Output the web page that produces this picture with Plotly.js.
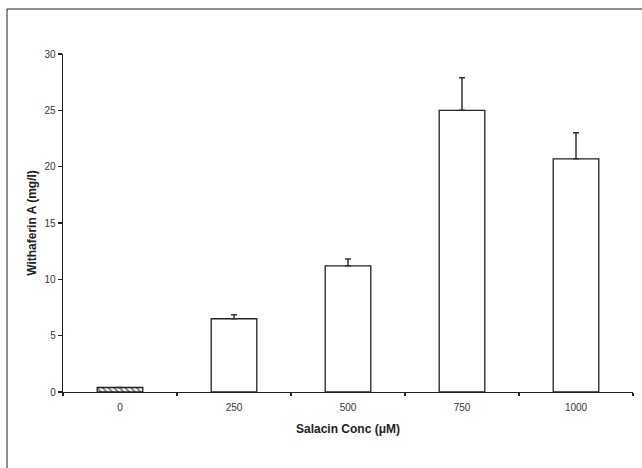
<!DOCTYPE html>
<html>
<head>
<meta charset="utf-8">
<script src="https://cdn.plot.ly/plotly-3.0.1.min.js"></script>
<style>html,body{margin:0;padding:0;background:#fff;}#chart{width:642px;height:468px;}</style>
</head>
<body>
<div id="chart"></div>
<script>
const categories = ["0", "250", "500", "750", "1000"];
const values = [0.4, 6.5, 11.2, 25.0, 20.7];
const errorsUp = [0, 0.35, 0.6, 2.9, 2.3];
const errorsDown = [0, 0, 0, 0, 0];
const patterns = ["\\", "", "", "", ""];

const trace = {
  type: "bar",
  x: categories,
  y: values,
  width: 0.4,
  marker: {
    color: "#ffffff",
    line: {color: "#222222", width: 1.3},
    pattern: {shape: patterns, fgcolor: "#555555", bgcolor: "#ffffff", size: 4, solidity: 0.35}
  },
  error_y: {
    type: "data", symmetric: false, array: errorsUp, arrayminus: errorsDown,
    visible: true, color: "#333333", thickness: 1.5, width: 3
  },
  hoverinfo: "none"
};

const font = {family: "Liberation Sans, Arial, sans-serif", color: "#222222"};

const layout = {
  width: 642, height: 468,
  margin: {l: 63, r: 9, t: 54, b: 76},
  paper_bgcolor: "#ffffff", plot_bgcolor: "#ffffff",
  showlegend: false,
  bargap: 0.6,
  font: font,
  xaxis: {
    type: "category",
    showline: true, linecolor: "#222222", linewidth: 1.3,
    ticks: "outside", tickson: "boundaries", ticklen: 3, tickcolor: "#222222", tickwidth: 1.3,
    ticklabelstandoff: 6,
    tickfont: {family: font.family, size: 10, color: "#333333"},
    showgrid: false, zeroline: false,
    title: {text: "Salacin Conc (μM)", font: {family: font.family, size: 12, color: "#222222", weight: "bold"}, standoff: 12}
  },
  yaxis: {
    range: [0, 30], dtick: 5, tick0: 0,
    showline: true, linecolor: "#222222", linewidth: 1.3,
    ticks: "outside", ticklen: 4, tickcolor: "#222222", tickwidth: 1.3,
    tickfont: {family: font.family, size: 10, color: "#333333"},
    showgrid: false, zeroline: false,
    title: {text: "Withaferin A (mg/l)", font: {family: font.family, size: 12, color: "#222222", weight: "bold"}, standoff: 5}
  },
  shapes: [{
    type: "rect", xref: "paper", yref: "paper",
    x0: -0.0982, x1: 1.06, y0: -0.3, y1: 1.1331,
    line: {color: "#222222", width: 1}, fillcolor: "rgba(0,0,0,0)", layer: "below"
  }]
};

Plotly.newPlot("chart", [trace], layout, {displayModeBar: false, staticPlot: true});
</script>
</body>
</html>
